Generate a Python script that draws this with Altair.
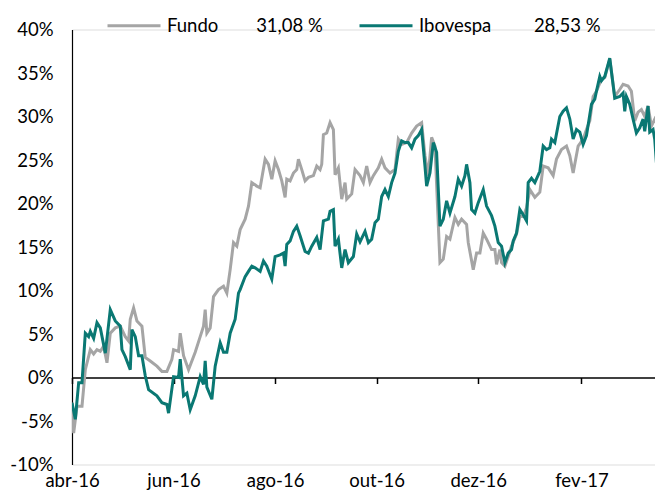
import altair as alt
import pandas as pd

START = pd.Timestamp("2016-04-01")

# days after 1 Apr 2016, cumulative return in %
fundo_days = [0, 1, 3, 6, 8, 11, 13, 15, 17, 19, 21, 23, 26, 29, 32, 34, 35, 37, 39, 42,
              44, 47, 51, 54, 57, 60, 61, 64, 65, 67, 70, 74, 77, 79, 80, 81, 83, 85, 88, 91,
              93, 95, 97, 99, 101, 104, 106, 108, 111, 113, 116, 118, 120, 122, 124, 126, 128, 129, 131, 133,
              135, 136, 138, 140, 142, 145, 147, 149, 150, 151, 153, 155, 157, 158, 160, 162, 164, 165, 168, 170,
              173, 175, 177, 179, 181, 184, 186, 188, 191, 194, 196, 198, 201, 204, 207, 210, 212, 214, 216, 218,
              221, 223, 225, 227, 230, 232, 234, 237, 238, 241, 243, 245, 247, 249, 252, 254, 255, 257, 258, 260,
              262, 264, 267, 269, 271, 273, 275, 278, 281, 283, 286, 289, 291, 294, 297, 299, 301, 304, 307, 309,
              311, 313, 315, 318, 320, 323, 326, 329, 331, 334, 336, 338, 340, 342, 344, 346, 348, 350, 352, 354,
              355]
fundo_vals = [-2.9, -6.4, -3.3, -3.3, 0.9, 3.2, 2.7, 3.2, 3.0, 3.6, 1.7, 5.1, 5.7, 5.9, 4.7, 4.2, 6.7, 8.0, 6.5, 5.9,
              2.3, 1.9, 1.3, 0.7, 0.7, 2.1, 3.2, 3.0, 5.1, 2.5, 0.9, 2.9, 4.7, 5.9, 7.8, 5.1, 5.7, 9.3, 10.1, 10.5,
              9.7, 12.4, 15.5, 15.1, 17.0, 18.2, 19.7, 22.4, 22.0, 21.8, 25.1, 24.5, 22.8, 24.9, 23.9, 22.6, 20.7, 22.8, 22.6, 23.5,
              23.9, 25.1, 23.9, 22.6, 23.0, 23.2, 24.3, 23.9, 24.5, 27.9, 28.1, 29.3, 28.5, 23.3, 24.1, 20.5, 22.4, 20.5, 21.1, 23.9,
              23.2, 22.4, 24.3, 22.4, 23.2, 24.1, 25.1, 24.1, 23.5, 23.9, 27.4, 26.8, 27.0, 28.1, 28.9, 29.3, 25.5, 23.2, 27.6, 26.6,
              13.2, 13.6, 16.2, 15.9, 18.4, 17.6, 18.2, 17.6, 15.5, 12.4, 14.3, 14.3, 16.6, 15.9, 14.7, 14.7, 13.0, 14.7, 13.2, 12.8,
              13.9, 15.1, 16.5, 18.5, 18.5, 19.5, 21.6, 20.7, 21.3, 24.3, 24.1, 23.2, 25.1, 26.2, 26.6, 25.5, 23.5, 26.6, 27.4, 28.5,
              29.5, 32.3, 32.9, 34.3, 34.5, 36.6, 32.3, 33.1, 33.7, 33.5, 32.9, 29.5, 30.5, 30.8, 30.0, 31.2, 28.9, 29.7, 28.9, 30.0,
              29.8]

ibov_days = [0, 2, 4, 6, 8, 10, 11, 13, 15, 17, 20, 23, 26, 29, 30, 32, 35, 36, 38, 40,
             42, 44, 46, 51, 54, 57, 58, 61, 64, 65, 67, 69, 71, 74, 77, 79, 80, 81, 84, 86,
             89, 91, 93, 95, 98, 100, 101, 104, 106, 108, 110, 113, 115, 117, 120, 122, 125, 127, 128, 129,
             131, 133, 135, 137, 140, 142, 144, 147, 149, 151, 154, 155, 157, 158, 160, 162, 164, 166, 169, 171,
             173, 176, 178, 180, 182, 184, 186, 188, 190, 192, 194, 196, 198, 200, 202, 204, 206, 208, 210, 212,
             213, 215, 217, 219, 221, 223, 225, 227, 230, 232, 234, 236, 237, 239, 240, 242, 244, 247, 249, 252,
             254, 256, 258, 260, 262, 264, 265, 267, 269, 271, 273, 274, 276, 278, 281, 283, 285, 287, 288, 290,
             293, 295, 297, 299, 301, 303, 305, 307, 309, 311, 312, 314, 315, 317, 318, 320, 323, 326, 329, 331,
             332, 333, 335, 337, 339, 341, 343, 344, 346, 347, 349, 350, 351, 353, 355]
ibov_vals = [-2.9, -4.8, -0.6, -0.6, 5.1, 4.7, 5.3, 4.5, 6.3, 5.7, 2.8, 7.8, 6.5, 5.9, 3.2, 2.4, 0.9, 5.5, 4.7, 2.5,
             2.5, 0.2, -1.4, -2.1, -2.9, -3.1, -4.1, 0.1, 0.0, 2.1, -2.1, -1.8, -3.7, -2.1, 0.1, -0.8, 1.9, -1.1, -2.5, 1.3,
             4.0, 2.9, 2.9, 5.1, 6.7, 9.7, 10.1, 11.6, 12.2, 12.8, 12.6, 12.2, 13.4, 12.8, 11.3, 13.9, 14.1, 14.3, 12.8, 15.3,
             15.7, 16.8, 17.4, 16.3, 14.5, 14.3, 15.1, 16.1, 14.7, 18.0, 18.2, 19.1, 19.3, 15.1, 15.9, 12.6, 14.7, 13.2, 13.9, 16.5,
             15.6, 16.8, 15.5, 15.9, 17.8, 18.2, 20.8, 21.6, 20.8, 22.4, 23.5, 26.0, 27.2, 27.0, 27.0, 26.4, 27.4, 27.8, 28.5, 24.3,
             22.0, 23.5, 27.0, 25.9, 17.4, 18.2, 20.3, 18.9, 20.8, 22.8, 22.0, 23.2, 24.5, 22.4, 19.3, 18.9, 20.1, 21.6, 19.7, 18.6,
             17.4, 15.5, 15.1, 13.2, 14.3, 14.7, 15.7, 16.6, 19.3, 18.7, 18.0, 22.4, 22.9, 22.4, 23.7, 26.6, 26.2, 26.4, 27.4, 27.0,
             30.0, 30.6, 31.0, 29.7, 27.4, 28.5, 28.2, 26.8, 27.8, 30.2, 31.4, 32.0, 32.9, 34.6, 34.1, 34.6, 36.7, 32.1, 32.3, 32.7,
             30.6, 32.3, 31.4, 29.7, 28.1, 28.7, 29.7, 28.3, 31.2, 28.2, 28.5, 27.4, 24.7, 26.2, 26.8]

series_names = ["Fundo", "Ibovespa"]
series_totals = ["31,08 %", "28,53 %"]
series_colors = ["#A5A5A5", "#0A7873"]
label_gaps = [8, 9]  # non-breaking spaces between name and total in the legend
y_ticks = [-10, -5, 0, 5, 10, 15, 20, 25, 30, 35, 40]
x_tick_months = [(2016, 4), (2016, 6), (2016, 8), (2016, 10), (2016, 12), (2017, 2)]
month_pt = ["jan", "fev", "mar", "abr", "mai", "jun", "jul", "ago", "set", "out", "nov", "dez"]

frames = []
for name, days, vals in [("Fundo", fundo_days, fundo_vals), ("Ibovespa", ibov_days, ibov_vals)]:
    frames.append(pd.DataFrame({
        "date": START + pd.to_timedelta(days, unit="D"),
        "ret": vals,
        "serie": name,
    }))
df = pd.concat(frames, ignore_index=True)

W, H = 583, 435
ymin, ymax = -10, 40
zero_offset = -H * (0 - ymin) / (ymax - ymin)

label_map = "{" + ",".join(
    f"'{n}': '{n}{chr(160) * g}{t}'" for n, t, g in zip(series_names, series_totals, label_gaps)) + "}"
month_arr = "[" + ",".join(f"'{m}'" for m in month_pt) + "]"

chart = alt.Chart(df).mark_line(strokeWidth=3, interpolate="linear", clip=True).encode(
    x=alt.X("date:T",
            scale=alt.Scale(domain=[alt.DateTime(year=2016, month=4, date=1),
                                    alt.DateTime(year=2017, month=3, date=17, hours=4)]),
            axis=alt.Axis(
                title=None, orient="bottom", offset=zero_offset,
                values=[alt.DateTime(year=y, month=m, date=1) for y, m in x_tick_months],
                labelExpr=f"{month_arr}[month(datum.value)] + '-' + timeFormat(datum.value, '%y')",
                domainColor="#000000", domainWidth=1.5, tickColor="#000000", tickSize=6, tickWidth=1.5,
                labelPadding=88, labelFontSize=18.5, labelFont="Lato", labelColor="#000000",
                labelFlush=False, grid=False)),
    y=alt.Y("ret:Q",
            scale=alt.Scale(domain=[ymin, ymax], nice=False, zero=False),
            axis=alt.Axis(
                title=None, values=y_ticks, labelExpr="datum.value + '%'",
                ticks=False, grid=False, domainColor="#000000", domainWidth=1.2,
                labelPadding=19, labelFontSize=18.5, labelFont="Lato", labelColor="#000000")),
    color=alt.Color("serie:N",
                    scale=alt.Scale(domain=series_names, range=series_colors),
                    legend=alt.Legend(
                        title=None, orient="none", direction="horizontal",
                        legendX=34, legendY=-32, padding=0,
                        symbolType="stroke", symbolSize=2809, symbolStrokeWidth=3,
                        labelExpr=f"{label_map}[datum.label]",
                        labelFont="Lato", labelFontSize=18.5, labelColor="#000000",
                        labelOffset=5, columnPadding=30, labelLimit=400)),
    order=alt.Order("serie:N"),
).properties(
    width=W, height=H,
    autosize=alt.AutoSizeParams(type="none"),
    padding={"left": 64, "top": 21.5, "right": 0, "bottom": 28.5},
).configure_view(stroke=None).configure(font="Lato")

chart.save("out.html", embed_options={"renderer": "svg", "actions": False})
